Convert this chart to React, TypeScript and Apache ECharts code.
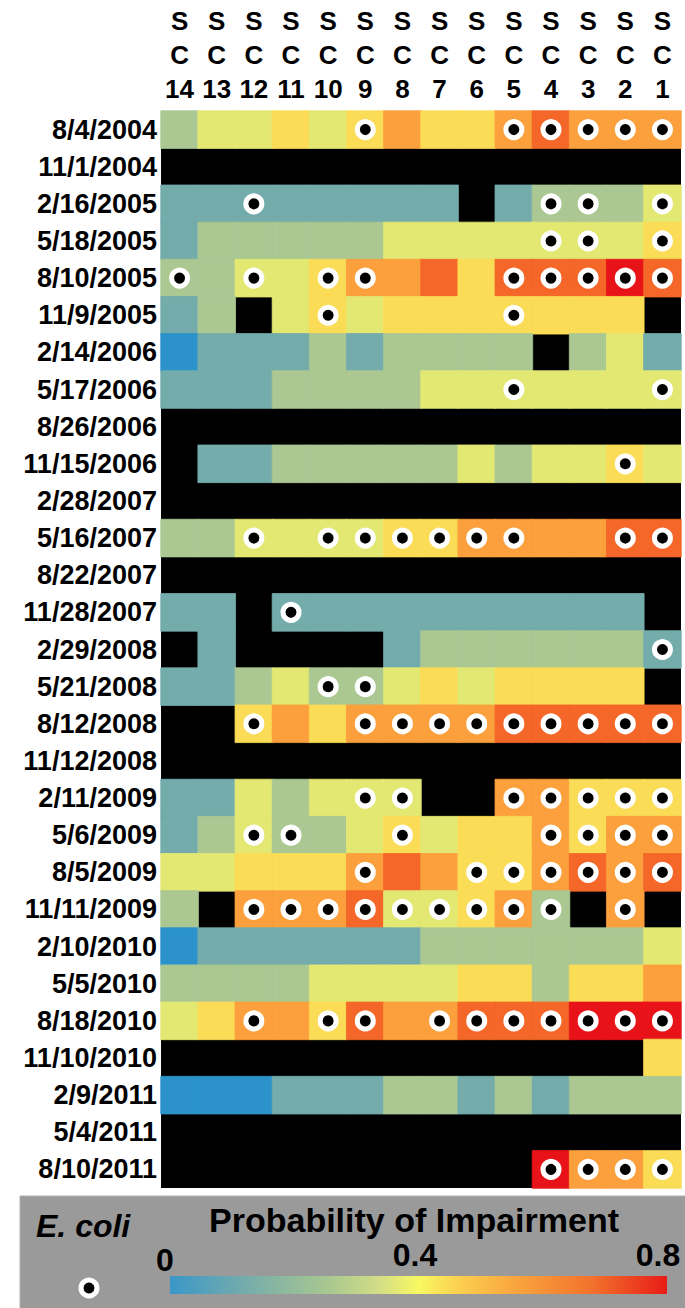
import React, { useEffect, useRef } from "react";
import * as echarts from "echarts";

const sites = ["SC14", "SC13", "SC12", "SC11", "SC10", "SC9", "SC8", "SC7", "SC6", "SC5", "SC4", "SC3", "SC2", "SC1"];
const dates = [
  "8/4/2004", "11/1/2004", "2/16/2005", "5/18/2005", "8/10/2005", "11/9/2005", "2/14/2006", "5/17/2006",
  "8/26/2006", "11/15/2006", "2/28/2007", "5/16/2007", "8/22/2007", "11/28/2007", "2/29/2008", "5/21/2008",
  "8/12/2008", "11/12/2008", "2/11/2009", "5/6/2009", "8/5/2009", "11/11/2009", "2/10/2010", "5/5/2010",
  "8/18/2010", "11/10/2010", "2/9/2011", "5/4/2011", "8/10/2011",
];
const _ = null;
// Probability of impairment per date (rows) and site (columns SC14..SC1); null = no data (black)
const probability: (number | null)[][] = [
  [0.25, 0.35, 0.35, 0.45, 0.35, 0.45, 0.55, 0.45, 0.45, 0.55, 0.65, 0.55, 0.55, 0.55],
  [_, _, _, _, _, _, _, _, _, _, _, _, _, _],
  [0.15, 0.15, 0.15, 0.15, 0.15, 0.15, 0.15, 0.15, _, 0.15, 0.25, 0.25, 0.25, 0.35],
  [0.15, 0.25, 0.25, 0.25, 0.25, 0.25, 0.35, 0.35, 0.35, 0.35, 0.35, 0.35, 0.35, 0.45],
  [0.25, 0.25, 0.35, 0.35, 0.45, 0.55, 0.55, 0.65, 0.45, 0.65, 0.65, 0.65, 0.75, 0.65],
  [0.15, 0.25, _, 0.35, 0.45, 0.35, 0.45, 0.45, 0.45, 0.45, 0.45, 0.45, 0.45, _],
  [0.05, 0.15, 0.15, 0.15, 0.25, 0.15, 0.25, 0.25, 0.25, 0.25, _, 0.25, 0.35, 0.15],
  [0.15, 0.15, 0.15, 0.25, 0.25, 0.25, 0.25, 0.35, 0.35, 0.35, 0.35, 0.35, 0.35, 0.35],
  [_, _, _, _, _, _, _, _, _, _, _, _, _, _],
  [_, 0.15, 0.15, 0.25, 0.25, 0.25, 0.25, 0.25, 0.35, 0.25, 0.35, 0.35, 0.45, 0.35],
  [_, _, _, _, _, _, _, _, _, _, _, _, _, _],
  [0.25, 0.25, 0.35, 0.35, 0.35, 0.35, 0.45, 0.45, 0.55, 0.55, 0.55, 0.55, 0.65, 0.65],
  [_, _, _, _, _, _, _, _, _, _, _, _, _, _],
  [0.15, 0.15, _, 0.15, 0.15, 0.15, 0.15, 0.15, 0.15, 0.15, 0.15, 0.15, 0.15, _],
  [_, 0.15, _, _, _, _, 0.15, 0.25, 0.25, 0.25, 0.25, 0.25, 0.25, 0.15],
  [0.15, 0.15, 0.25, 0.35, 0.25, 0.25, 0.35, 0.45, 0.35, 0.45, 0.45, 0.45, 0.45, _],
  [_, _, 0.45, 0.55, 0.45, 0.55, 0.55, 0.55, 0.55, 0.65, 0.65, 0.65, 0.65, 0.65],
  [_, _, _, _, _, _, _, _, _, _, _, _, _, _],
  [0.15, 0.15, 0.35, 0.25, 0.35, 0.35, 0.35, _, _, 0.55, 0.55, 0.45, 0.45, 0.45],
  [0.15, 0.25, 0.35, 0.25, 0.25, 0.35, 0.45, 0.35, 0.45, 0.45, 0.55, 0.45, 0.55, 0.55],
  [0.35, 0.35, 0.45, 0.45, 0.45, 0.55, 0.65, 0.55, 0.45, 0.45, 0.55, 0.65, 0.55, 0.65],
  [0.25, _, 0.55, 0.55, 0.55, 0.65, 0.35, 0.35, 0.45, 0.55, 0.25, _, 0.55, _],
  [0.05, 0.15, 0.15, 0.15, 0.15, 0.15, 0.15, 0.25, 0.25, 0.25, 0.25, 0.25, 0.25, 0.35],
  [0.25, 0.25, 0.25, 0.25, 0.35, 0.35, 0.35, 0.35, 0.45, 0.45, 0.25, 0.45, 0.45, 0.55],
  [0.35, 0.45, 0.55, 0.55, 0.45, 0.65, 0.55, 0.55, 0.65, 0.65, 0.65, 0.75, 0.75, 0.75],
  [_, _, _, _, _, _, _, _, _, _, _, _, _, 0.45],
  [0.05, 0.05, 0.05, 0.15, 0.15, 0.15, 0.25, 0.25, 0.15, 0.25, 0.15, 0.25, 0.25, 0.25],
  [_, _, _, _, _, _, _, _, _, _, _, _, _, _],
  [_, _, _, _, _, _, _, _, _, _, 0.75, 0.55, 0.55, 0.45],
];
// E. coli exceedance (1 = marker) per date and site
const ecoli: number[][] = [
  [0, 0, 0, 0, 0, 1, 0, 0, 0, 1, 1, 1, 1, 1],
  [0, 0, 0, 0, 0, 0, 0, 0, 0, 0, 0, 0, 0, 0],
  [0, 0, 1, 0, 0, 0, 0, 0, 0, 0, 1, 1, 0, 1],
  [0, 0, 0, 0, 0, 0, 0, 0, 0, 0, 1, 1, 0, 1],
  [1, 0, 1, 0, 1, 1, 0, 0, 0, 1, 1, 1, 1, 1],
  [0, 0, 0, 0, 1, 0, 0, 0, 0, 1, 0, 0, 0, 0],
  [0, 0, 0, 0, 0, 0, 0, 0, 0, 0, 0, 0, 0, 0],
  [0, 0, 0, 0, 0, 0, 0, 0, 0, 1, 0, 0, 0, 1],
  [0, 0, 0, 0, 0, 0, 0, 0, 0, 0, 0, 0, 0, 0],
  [0, 0, 0, 0, 0, 0, 0, 0, 0, 0, 0, 0, 1, 0],
  [0, 0, 0, 0, 0, 0, 0, 0, 0, 0, 0, 0, 0, 0],
  [0, 0, 1, 0, 1, 1, 1, 1, 1, 1, 0, 0, 1, 1],
  [0, 0, 0, 0, 0, 0, 0, 0, 0, 0, 0, 0, 0, 0],
  [0, 0, 0, 1, 0, 0, 0, 0, 0, 0, 0, 0, 0, 0],
  [0, 0, 0, 0, 0, 0, 0, 0, 0, 0, 0, 0, 0, 1],
  [0, 0, 0, 0, 1, 1, 0, 0, 0, 0, 0, 0, 0, 0],
  [0, 0, 1, 0, 0, 1, 1, 1, 1, 1, 1, 1, 1, 1],
  [0, 0, 0, 0, 0, 0, 0, 0, 0, 0, 0, 0, 0, 0],
  [0, 0, 0, 0, 0, 1, 1, 0, 0, 1, 1, 1, 1, 1],
  [0, 0, 1, 1, 0, 0, 1, 0, 0, 0, 1, 1, 1, 1],
  [0, 0, 0, 0, 0, 1, 0, 0, 1, 1, 1, 1, 1, 1],
  [0, 0, 1, 1, 1, 1, 1, 1, 1, 1, 1, 0, 1, 0],
  [0, 0, 0, 0, 0, 0, 0, 0, 0, 0, 0, 0, 0, 0],
  [0, 0, 0, 0, 0, 0, 0, 0, 0, 0, 0, 0, 0, 0],
  [0, 0, 1, 0, 1, 1, 0, 1, 1, 1, 1, 1, 1, 1],
  [0, 0, 0, 0, 0, 0, 0, 0, 0, 0, 0, 0, 0, 0],
  [0, 0, 0, 0, 0, 0, 0, 0, 0, 0, 0, 0, 0, 0],
  [0, 0, 0, 0, 0, 0, 0, 0, 0, 0, 0, 0, 0, 0],
  [0, 0, 0, 0, 0, 0, 0, 0, 0, 0, 1, 1, 1, 1],
];
const classBreaks = [0, 0.1, 0.2, 0.3, 0.4, 0.5, 0.6, 0.7, 0.8];
const classColors = ["#2b93c9", "#74acac", "#abc893", "#e3e873", "#fbdc56", "#fba03c", "#f46728", "#e81318"];
const legendTicks = ["0", "0.4", "0.8"];

const FONT = "'Liberation Sans', Arial, sans-serif";

function colorFor(v: number): string {
  for (let i = 0; i < classColors.length; i++) {
    if (v >= classBreaks[i] && v < classBreaks[i + 1]) return classColors[i];
  }
  return classColors[classColors.length - 1];
}

export default function App() {
  const ref = useRef<HTMLDivElement>(null);
  useEffect(() => {
    document.body.style.margin = "0";
    const chart = echarts.init(ref.current!, undefined, { renderer: "svg" });
    const heat: any[] = [];
    const dots: any[] = [];
    probability.forEach((row, r) =>
      row.forEach((v, c) => {
        if (v !== null) {
          const col = colorFor(v);
          heat.push({ value: [c, r, v], itemStyle: { borderColor: col, borderWidth: 0.8 } });
        }
      })
    );
    ecoli.forEach((row, r) =>
      row.forEach((v, c) => {
        if (v === 1) dots.push([c, r]);
      })
    );
    const pieces: any[] = classColors.map((color, i) =>
      i === classColors.length - 1
        ? { gte: classBreaks[i], lte: classBreaks[i + 1], color }
        : { gte: classBreaks[i], lt: classBreaks[i + 1], color }
    );

    const barX = 170, barW = 497, barY = 1276, barH = 18;
    chart.setOption({
      animation: false,
      grid: { left: 161, top: 111, width: 520, height: 1077, show: true, backgroundColor: "#000", borderWidth: 0 },
      xAxis: {
        type: "category",
        position: "top",
        data: sites,
        axisLine: { show: false },
        axisTick: { show: false },
        splitLine: { show: false },
        axisLabel: {
          interval: 0,
          margin: 5,
          formatter: (v: string) => "S\nC\n" + v.slice(2),
          fontFamily: FONT,
          fontWeight: "bold",
          fontSize: 26,
          lineHeight: 34,
          color: "#000",
        },
      },
      yAxis: {
        type: "category",
        inverse: true,
        data: dates,
        axisLine: { show: false },
        axisTick: { show: false },
        splitLine: { show: false },
        axisLabel: { interval: 0, margin: 4, fontFamily: FONT, fontWeight: "bold", fontSize: 27, color: "#000" },
      },
      visualMap: {
        type: "piecewise",
        show: false,
        seriesIndex: 0,
        dimension: 2,
        pieces,
      },
      series: [
        {
          type: "heatmap",
          data: heat,
          emphasis: { disabled: true },
        },
        {
          type: "scatter",
          data: dots,
          symbol: "circle",
          symbolSize: 16,
          itemStyle: { color: "#000", borderColor: "#fff", borderWidth: 5, opacity: 1 },
          z: 5,
        },
      ],
      graphic: [
        { type: "rect", shape: { x: 20, y: 1196, width: 670, height: 120 }, style: { fill: "#9a9a9a", stroke: "#b0b0b0", lineWidth: 1 } },
        { type: "text", x: 36, y: 1226, style: { text: "E. coli", font: `italic bold 32px ${FONT}`, fill: "#000", textVerticalAlign: "middle" } },
        { type: "text", x: 414, y: 1220, style: { text: "Probability of Impairment", font: `bold 34px ${FONT}`, fill: "#000", textAlign: "center", textVerticalAlign: "middle" } },
        { type: "text", x: 165, y: 1260, style: { text: legendTicks[0], font: `bold 32px ${FONT}`, fill: "#000", textAlign: "center", textVerticalAlign: "middle" } },
        { type: "text", x: 415, y: 1255, style: { text: legendTicks[1], font: `bold 32px ${FONT}`, fill: "#000", textAlign: "center", textVerticalAlign: "middle" } },
        { type: "text", x: 658, y: 1255, style: { text: legendTicks[2], font: `bold 32px ${FONT}`, fill: "#000", textAlign: "center", textVerticalAlign: "middle" } },
        {
          type: "rect",
          shape: { x: barX, y: barY, width: barW, height: barH },
          style: {
            fill: new echarts.graphic.LinearGradient(0, 0, 1, 0, [
              { offset: 0, color: "#3a97c8" },
              { offset: 0.15, color: "#74acac" },
              { offset: 0.32, color: "#a9c890" },
              { offset: 0.42, color: "#d2dd86" },
              { offset: 0.5, color: "#f8f862" },
              { offset: 0.58, color: "#fbd050" },
              { offset: 0.7, color: "#f9a33e" },
              { offset: 0.85, color: "#f2712c" },
              { offset: 1, color: "#e81c18" },
            ]),
          },
        },
        { type: "circle", shape: { cx: 89, cy: 1288, r: 8 }, style: { fill: "#000", stroke: "#fff", lineWidth: 5 } },
      ],
    });
    return () => chart.dispose();
  }, []);
  return <div ref={ref} style={{ width: 685, height: 1308 }} />;
}
